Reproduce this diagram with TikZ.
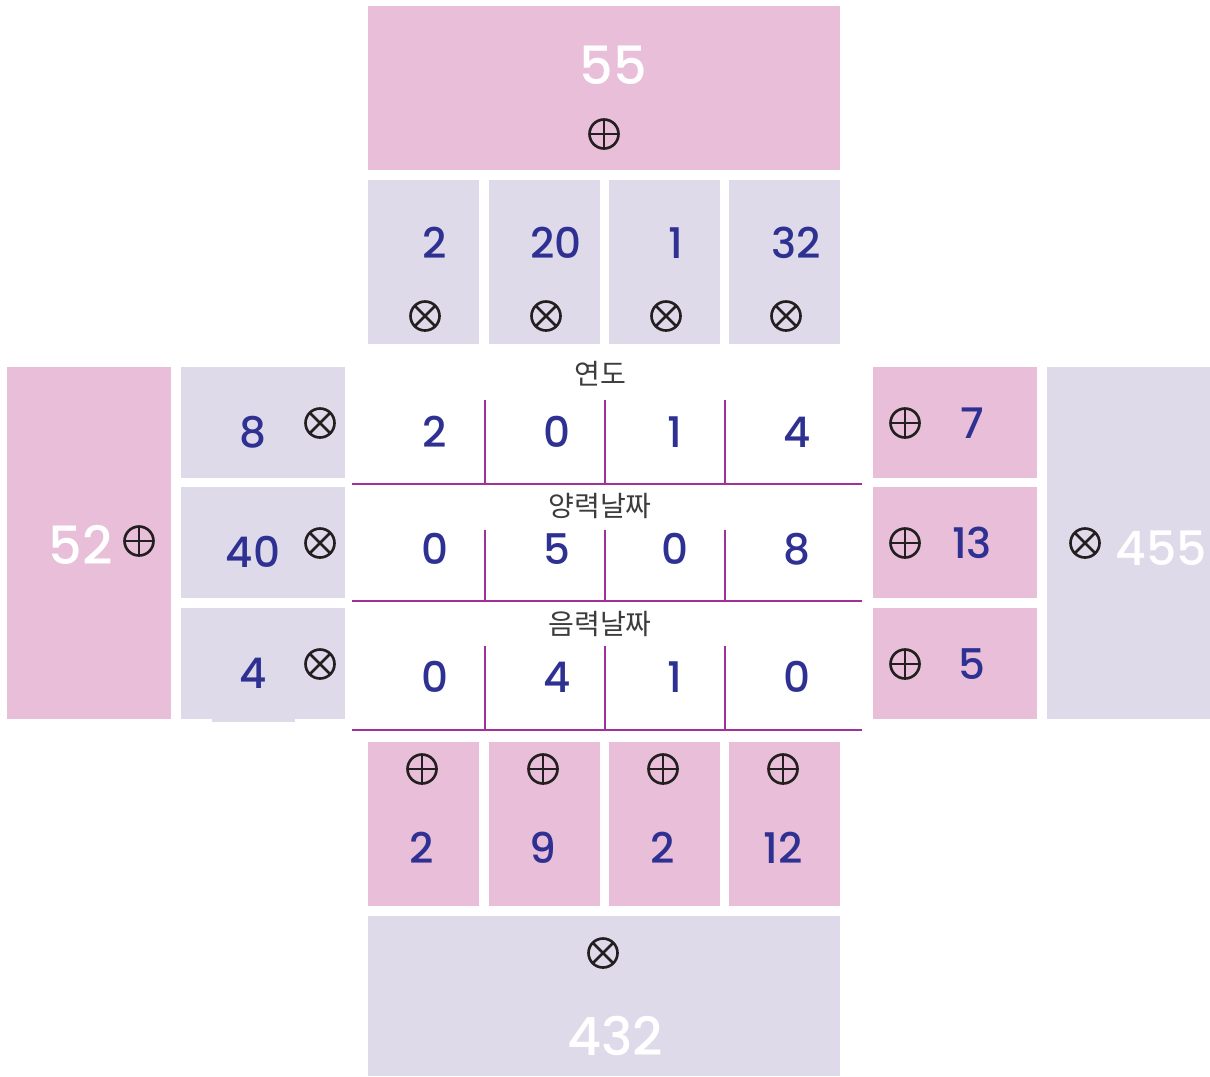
\documentclass[tikz,border=0pt]{standalone}
\usepackage{fontspec}
\usepackage{xcolor}
\usepackage{tikz}
\usetikzlibrary{positioning}
\newfontfamily\handfont{Poppins}[UprightFont=* Medium]
\newfontfamily\krfont{Noto Sans CJK KR}
\definecolor{pinkbg}{HTML}{E8BED8}
\definecolor{lavbg}{HTML}{DEDAEA}
\definecolor{inkblue}{HTML}{2E3192}
\definecolor{gridline}{HTML}{A0309A}
\definecolor{symink}{HTML}{231F20}
\definecolor{labelgray}{HTML}{3C3C3C}
\tikzset{
  pinkbox/.style ={fill=pinkbg},
  lavbox/.style  ={fill=lavbg},
  digit/.style   ={text=inkblue,inner sep=0pt,font=\handfont\fontsize{24}{24}\selectfont},
  total/.style   ={text=white,inner sep=0pt,font=\handfont\fontsize{30}{30}\selectfont},
  rowlabel/.style={text=labelgray,inner sep=0pt,font=\krfont\fontsize{16}{18}\selectfont},
  gridln/.style  ={draw=gridline,line width=1.1pt},
  plussym/.style ={circle,draw=symink,line width=1.5pt,minimum size=0.58cm,inner sep=0pt,
                   path picture={\draw[symink,line width=1.5pt]
                     (path picture bounding box.north) -- (path picture bounding box.south)
                     (path picture bounding box.west) -- (path picture bounding box.east);}},
  timessym/.style={circle,draw=symink,line width=1.5pt,minimum size=0.58cm,inner sep=0pt,
                   path picture={\draw[symink,line width=1.5pt]
                     (path picture bounding box.north west) -- (path picture bounding box.south east)
                     (path picture bounding box.north east) -- (path picture bounding box.south west);}}
}
\begin{document}
\begin{tikzpicture}[x=0.02cm,y=-0.02cm]
  \useasboundingbox (0,0) rectangle (1210,1076);
  % top total
  \fill[pinkbox] (368,6) rectangle (840,170);
  \node[total] (toptotal) at (613,65) {55};
  \node[plussym] (topsym) at (604,134) {};
  % top row, year digits
  \foreach \xl/\n/\k in {368/2/1,489/20/2,609/1/3,729/32/4}{
    \fill[lavbox] (\xl,180) rectangle ++(111,164);
    \node[digit] (top\k) at (\xl+67,243) {\n};
    \node[timessym] (topx\k) at (\xl+57,316) {};
  }
  % left side
  \fill[pinkbox] (7,367) rectangle (171,719);
  \node[total] (lefttotal) at (81,545) {52};
  \node[plussym] (leftsym) at (139,541) {};
  \foreach \yt/\n/\k in {367/8/1,487/40/2,608/4/3}{
    \fill[lavbox] (181,\yt) rectangle ++(164,111);
    \node[digit] (left\k) at (253,\yt+65) {\n};
    \node[timessym] (leftx\k) at (320,\yt+56) {};
  }
  \fill[lavbox] (212,719) rectangle (295,722);
  % right side
  \fill[lavbox] (1047,367) rectangle (1210,719);
  \node[timessym] (rightsym) at (1085,543) {};
  \node[total,anchor=east,font=\handfont\fontsize{27}{27}\selectfont] (righttotal) at (1207,548) {455};
  \foreach \yt/\n/\k in {367/7/1,487/13/2,608/5/3}{
    \fill[pinkbox] (873,\yt) rectangle ++(164,111);
    \node[plussym] (rightx\k) at (905,\yt+56) {};
    \node[digit] (right\k) at (972,\yt+56) {\n};
  }
  % centre table
  \node[rowlabel] (yearlbl) at (600,374) {연도};
  \node[rowlabel] (sollbl) at (600,506) {양력날짜};
  \node[rowlabel] (lunlbl) at (600,624) {음력날짜};
  \foreach \y in {484,601,730}
    \draw[gridln] (352,\y) -- (862,\y);
  \foreach \x in {485,605,725}{
    \draw[gridln] (\x,400) -- (\x,484);
    \draw[gridln] (\x,530) -- (\x,601);
    \draw[gridln] (\x,646) -- (\x,730);
  }
  \foreach \x/\a/\b/\c/\k in {435/2/0/0/1,557/0/5/4/2,675/1/0/1/3,797/4/8/0/4}{
    \node[digit] (yr\k) at (\x,432) {\a};
    \node[digit] (sol\k) at (\x,549) {\b};
    \node[digit] (lun\k) at (\x,677) {\c};
  }
  % bottom row
  \foreach \xl/\n/\k in {368/2/1,489/9/2,609/2/3,729/12/4}{
    \fill[pinkbox] (\xl,742) rectangle ++(111,164);
    \node[plussym] (botx\k) at (\xl+54,769) {};
    \node[digit] (bot\k) at (\xl+54,848) {\n};
  }
  % bottom total
  \fill[lavbox] (368,916) rectangle (840,1076);
  \node[timessym] (botsym) at (603,953) {};
  \node[total] (bottotal) at (615,1036) {432};
\end{tikzpicture}
\end{document}
